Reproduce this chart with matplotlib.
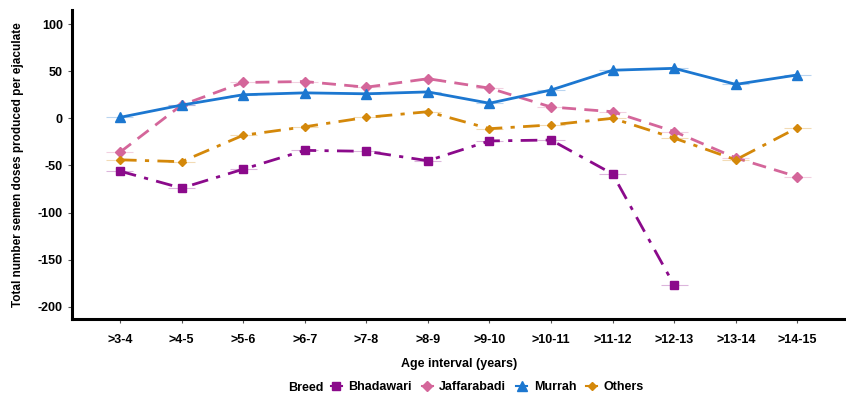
import numpy as np
import matplotlib.pyplot as plt
from matplotlib.lines import Line2D

plt.rcParams['font.family'] = ['Liberation Sans', 'DejaVu Sans']
plt.rcParams['font.weight'] = 'bold'
plt.rcParams['axes.unicode_minus'] = False

# age intervals on the x axis
ages = [">3-4", ">4-5", ">5-6", ">6-7", ">7-8", ">8-9",
        ">9-10", ">10-11", ">11-12", ">12-13", ">13-14", ">14-15"]

# total semen doses per ejaculate, by breed
bhadawari = [-56, -74, -54, -34, -35, -45, -24, -23, -59, -177]
jaffarabadi = [-36, 14, 38, 39, 33, 42, 32, 12, 7, -14, -42, -62]
murrah = [1, 14, 25, 27, 26, 28, 16, 30, 51, 53, 36, 46]
others = [-44, -46, -18, -9, 1, 7, -11, -7, 0, -21, -44, -10]

series = [
    ("Bhadawari", bhadawari, "#8B0A8B", "s", 6, (0, (6, 3, 1.5, 3))),
    ("Jaffarabadi", jaffarabadi, "#D4669A", "D", 5, (0, (5, 3))),
    ("Murrah", murrah, "#1C77D0", "^", 7, "-"),
    ("Others", others, "#D4880A", "D", 4, (0, (6, 3, 1.5, 3))),
]

fig = plt.figure(figsize=(8.46, 3.95), dpi=100)
ax = fig.add_axes([0.085, 0.192, 0.915, 0.783])

x_all = np.arange(len(ages))
handles = []
for name, vals, color, marker, ms, ls in series:
    x = x_all[:len(vals)]
    ax.plot(x, vals, color=color, linestyle=ls, linewidth=2,
            marker=marker, markersize=ms, markeredgecolor=color)
    # short horizontal bars through each point
    ax.hlines(vals, x - 0.22, x + 0.22, color=color, linewidth=0.8, alpha=0.3)
    handles.append(Line2D([], [], color=color, marker=marker, markersize=ms,
                          linestyle="-", linewidth=1.5, label=name))

ax.set_xlim(-0.78, 11.79)
ax.set_ylim(-213, 115)
ax.set_xticks(x_all)
ax.set_xticklabels(ages)
ax.set_yticks([100, 50, 0, -50, -100, -150, -200])
ax.tick_params(axis="both", labelsize=9, length=3, width=0.8, color="#555555")
ax.tick_params(axis="x", pad=8)
for lbl in ax.get_xticklabels() + ax.get_yticklabels():
    lbl.set_fontweight("bold")

for side in ["top", "right"]:
    ax.spines[side].set_visible(False)
for side in ["left", "bottom"]:
    ax.spines[side].set_linewidth(2.2)
    ax.spines[side].set_color("black")

ax.set_xlabel("Age interval (years)", fontsize=9, fontweight="bold", labelpad=8)
ax.set_ylabel("Total number semen doses produced per ejaculate", fontsize=8.5,
              fontweight="bold", labelpad=10)

fig.text(0.34, 0.018, "Breed", fontsize=9, fontweight="bold", va="center")
leg = fig.legend(handles=handles, loc="center left", bbox_to_anchor=(0.385, 0.02),
                 ncol=4, frameon=False, fontsize=9, handlelength=0.9,
                 handletextpad=0.5, columnspacing=0.8, borderaxespad=0)
for t in leg.get_texts():
    t.set_fontweight("bold")

fig.savefig("out.png", dpi=100)
